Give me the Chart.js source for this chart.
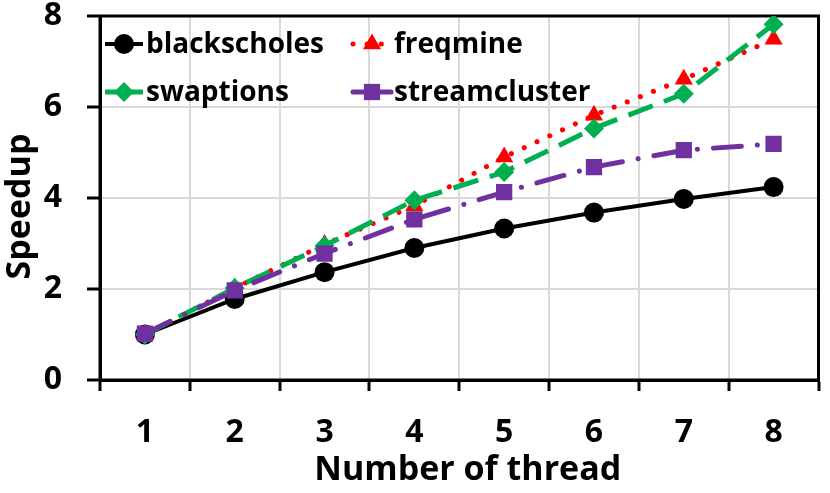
<!DOCTYPE html>
<html>
<head>
<meta charset="utf-8">
<script src="https://cdn.jsdelivr.net/npm/chart.js@4.4.1/dist/chart.umd.min.js"></script>
<style>
html,body{margin:0;padding:0;background:#fff;}
#wrap{width:830px;height:493px;}
</style>
</head>
<body>
<div id="wrap"><canvas id="c" width="830" height="493"></canvas></div>
<script>
const threads = ['1','2','3','4','5','6','7','8'];
const blackscholes = [1.0, 1.78, 2.37, 2.9, 3.33, 3.68, 3.98, 4.24];
const freqmine = [1.0, 2.02, 2.98, 3.83, 4.9, 5.82, 6.61, 7.49];
const swaptions = [1.0, 2.02, 2.95, 3.95, 4.57, 5.53, 6.29, 7.82];
const streamcluster = [1.02, 1.97, 2.78, 3.53, 4.13, 4.68, 5.05, 5.19];
const yTicks = [0, 2, 4, 6, 8];
const xTitle = 'Number of thread';
const yTitle = 'Speedup';

const FONT = '"Open Sans"';
const TICK_SIZE = 32;
const TITLE_SIZE = 34;
const LEGEND_SIZE = 28;

function drawMarker(ctx, style, r, x, y, color) {
  ctx.save();
  ctx.fillStyle = color;
  ctx.beginPath();
  if (style === 'circle') {
    ctx.arc(x, y, r, 0, Math.PI * 2);
  } else if (style === 'triangle') {
    const h = r * 1.5, w = r * Math.sqrt(3);
    ctx.moveTo(x, y - r);
    ctx.lineTo(x + w / 2, y - r + h);
    ctx.lineTo(x - w / 2, y - r + h);
    ctx.closePath();
  } else if (style === 'rectRot') {
    ctx.moveTo(x - r, y); ctx.lineTo(x, y - r); ctx.lineTo(x + r, y); ctx.lineTo(x, y + r);
    ctx.closePath();
  } else if (style === 'rect') {
    const s = r * Math.SQRT1_2;
    ctx.rect(x - s, y - s, 2 * s, 2 * s);
  }
  ctx.fill();
  ctx.restore();
}

const frameAndLegend = {
  id: 'frameAndLegend',
  beforeDatasetsDraw(chart) {
    const {ctx, chartArea: a} = chart;
    ctx.save();
    ctx.strokeStyle = '#000';
    ctx.lineWidth = 3;
    ctx.strokeRect(a.left, a.top, a.right - a.left, a.bottom - a.top);
    ctx.restore();
  },
  afterDraw(chart) {
    const {ctx, chartArea: a} = chart;
    ctx.save();
    chart.data.datasets.forEach((ds, i) => {
      const col = i % 2, row = Math.floor(i / 2);
      const x0 = a.left + 5 + col * 248;
      const y = a.top + 28 + row * 48;
      ctx.save();
      ctx.strokeStyle = ds.borderColor;
      ctx.lineWidth = ds.borderWidth;
      ctx.lineCap = ds.borderCapStyle || 'butt';
      ctx.setLineDash(ds.legendDash || []);
      ctx.beginPath();
      ctx.moveTo(x0, y);
      ctx.lineTo(x0 + 38, y);
      ctx.stroke();
      ctx.restore();
      drawMarker(ctx, ds.pointStyle, ds.pointRadius, x0 + 19, y, ds.pointBackgroundColor);
      ctx.fillStyle = '#000';
      ctx.font = 'bold ' + LEGEND_SIZE + 'px ' + FONT;
      ctx.textBaseline = 'middle';
      ctx.textAlign = 'left';
      ctx.fillText(ds.label, x0 + 41, y + 1);
    });
    ctx.restore();
  }
};

function build() {
  new Chart(document.getElementById('c'), {
    type: 'line',
    data: {
      labels: threads,
      datasets: [
        {label: 'blackscholes', data: blackscholes, borderColor: '#000000', backgroundColor: '#000000',
         pointBackgroundColor: '#000000', pointBorderWidth: 0, borderWidth: 4, pointStyle: 'circle', pointRadius: 10, order: 4},
        {label: 'freqmine', data: freqmine, borderColor: '#FF0000', backgroundColor: '#FF0000',
         pointBackgroundColor: '#FF0000', pointBorderWidth: 0, borderWidth: 5, borderDash: [0.1, 14], borderCapStyle: 'round',
         legendDash: [0.1, 14], pointStyle: 'triangle', pointRadius: 10.5, order: 3},
        {label: 'swaptions', data: swaptions, borderColor: '#00B050', backgroundColor: '#00B050',
         pointBackgroundColor: '#00B050', pointBorderWidth: 0, borderWidth: 5, borderDash: [26, 12],
         legendDash: [], pointStyle: 'rectRot', pointRadius: 10, order: 2},
        {label: 'streamcluster', data: streamcluster, borderColor: '#7030A0', backgroundColor: '#7030A0',
         pointBackgroundColor: '#7030A0', pointBorderWidth: 0, borderWidth: 5, borderDash: [28, 16, 0.1, 16], borderCapStyle: 'round',
         legendDash: [], pointStyle: 'rect', pointRadius: 11.5, order: 1}
      ]
    },
    options: {
      responsive: false,
      animation: false,
      layout: {padding: {top: 16, right: 5, left: 0, bottom: 0}},
      plugins: {legend: {display: false}, tooltip: {enabled: false}},
      elements: {line: {tension: 0}},
      scales: {
        x: {
          type: 'category',
          offset: true,
          grid: {offset: true, color: '#D9D9D9', lineWidth: 2, tickColor: '#000', tickLength: 11, tickWidth: 3},
          border: {color: '#000', width: 3},
          ticks: {color: '#000', font: {family: FONT, weight: 'bold', size: TICK_SIZE}, padding: 23},
          title: {display: true, text: '\u2002' + xTitle, color: '#000', font: {family: FONT, weight: 'bold', size: TITLE_SIZE}, padding: {top: 0, bottom: 2}},
          afterFit(s) { s.height = 113; s.paddingLeft = 0; s.paddingRight = 0; }
        },
        y: {
          min: 0, max: 8,
          afterBuildTicks(s) { s.ticks = yTicks.map(v => ({value: v})); },
          grid: {color: '#D9D9D9', lineWidth: 2, tickColor: '#000', tickLength: 13, tickWidth: 3},
          border: {color: '#000', width: 3},
          ticks: {color: '#000', font: {family: FONT, weight: 'bold', size: TICK_SIZE}, padding: 25},
          title: {display: true, text: yTitle + '\u2002', color: '#000', font: {family: FONT, weight: 'bold', size: TITLE_SIZE}, padding: {top: 0, bottom: 0}},
          afterFit(s) { s.width = 100; s.paddingTop = 0; s.paddingBottom = 0; }
        }
      }
    },
    plugins: [frameAndLegend]
  });
}
if (document.fonts && document.fonts.load) {
  document.fonts.load('bold 30px ' + FONT).then(build, build);
} else { build(); }
</script>
</body>
</html>
